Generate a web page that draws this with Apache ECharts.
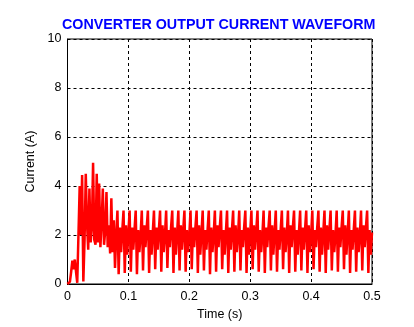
<!DOCTYPE html>
<html>
<head>
<meta charset="utf-8">
<style>
  html, body { margin: 0; padding: 0; background: #fff; }
  #chart { width: 414px; height: 327px; }
</style>
<script src="https://cdn.jsdelivr.net/npm/echarts@6/dist/echarts.min.js"></script>
</head>
<body>
<div id="chart"></div>
<script>
var titleText = 'CONVERTER OUTPUT CURRENT WAVEFORM';
var xTicks = [0, 0.1, 0.2, 0.3, 0.4, 0.5];
var yTicks = [0, 2, 4, 6, 8, 10];

// sample times (s), one row per 10 ms
var time = [
  0.000, 0.002, 0.004, 0.006, 0.008, 0.010, 0.012, 0.014, 0.016, 0.018,
  0.020, 0.022, 0.024, 0.026, 0.028, 0.030, 0.032, 0.034, 0.036, 0.038,
  0.040, 0.042, 0.044, 0.046, 0.048, 0.050, 0.052, 0.054, 0.056, 0.058,
  0.060, 0.062, 0.064, 0.066, 0.068, 0.070, 0.072, 0.074, 0.076, 0.078,
  0.080, 0.082, 0.084, 0.086, 0.088, 0.090, 0.092, 0.094, 0.096, 0.098,
  0.100, 0.102, 0.104, 0.106, 0.108, 0.110, 0.112, 0.114, 0.116, 0.118,
  0.120, 0.122, 0.124, 0.126, 0.128, 0.130, 0.132, 0.134, 0.136, 0.138,
  0.140, 0.142, 0.144, 0.146, 0.148, 0.150, 0.152, 0.154, 0.156, 0.158,
  0.160, 0.162, 0.164, 0.166, 0.168, 0.170, 0.172, 0.174, 0.176, 0.178,
  0.180, 0.182, 0.184, 0.186, 0.188, 0.190, 0.192, 0.194, 0.196, 0.198,
  0.200, 0.202, 0.204, 0.206, 0.208, 0.210, 0.212, 0.214, 0.216, 0.218,
  0.220, 0.222, 0.224, 0.226, 0.228, 0.230, 0.232, 0.234, 0.236, 0.238,
  0.240, 0.242, 0.244, 0.246, 0.248, 0.250, 0.252, 0.254, 0.256, 0.258,
  0.260, 0.262, 0.264, 0.266, 0.268, 0.270, 0.272, 0.274, 0.276, 0.278,
  0.280, 0.282, 0.284, 0.286, 0.288, 0.290, 0.292, 0.294, 0.296, 0.298,
  0.300, 0.302, 0.304, 0.306, 0.308, 0.310, 0.312, 0.314, 0.316, 0.318,
  0.320, 0.322, 0.324, 0.326, 0.328, 0.330, 0.332, 0.334, 0.336, 0.338,
  0.340, 0.342, 0.344, 0.346, 0.348, 0.350, 0.352, 0.354, 0.356, 0.358,
  0.360, 0.362, 0.364, 0.366, 0.368, 0.370, 0.372, 0.374, 0.376, 0.378,
  0.380, 0.382, 0.384, 0.386, 0.388, 0.390, 0.392, 0.394, 0.396, 0.398,
  0.400, 0.402, 0.404, 0.406, 0.408, 0.410, 0.412, 0.414, 0.416, 0.418,
  0.420, 0.422, 0.424, 0.426, 0.428, 0.430, 0.432, 0.434, 0.436, 0.438,
  0.440, 0.442, 0.444, 0.446, 0.448, 0.450, 0.452, 0.454, 0.456, 0.458,
  0.460, 0.462, 0.464, 0.466, 0.468, 0.470, 0.472, 0.474, 0.476, 0.478,
  0.480, 0.482, 0.484, 0.486, 0.488, 0.490, 0.492, 0.494, 0.496, 0.498,
  0.500
];

// output current (A), same rows
var current = [
  0, 0, 0.1, 0.5, 0.95, 0.6, 1.0, 0.5, 0.05, 0.1,
  4.0, 2.0, 4.45, 0.1, 1.8, 4.5, 2.5, 1.4, 3.9, 1.7,
  2.3, 4.95, 1.8, 1.6, 4.5, 1.7, 4.1, 1.5, 2.5, 3.9,
  1.6, 2.2, 3.75, 1.5, 2.4, 1.25, 3.5, 1.3, 2.6, 0.65,
  2.0, 3.0, 0.4, 2.3, 1.3, 2.2, 3.0, 0.45, 2.4, 1.2,
  2.1, 3.0, 0.5, 2.3, 1.4, 2.2, 3.0, 0.4, 2.2, 1.3,
  2.0, 3.0, 0.55, 2.4, 1.5, 2.3, 3.0, 0.45, 2.2, 1.2,
  2.1, 3.0, 0.6, 2.3, 1.4, 2.2, 3.0, 0.5, 2.4, 1.3,
  2.0, 3.0, 0.65, 2.2, 1.5, 2.3, 3.0, 0.45, 2.3, 1.2,
  2.1, 3.0, 0.55, 2.4, 1.4, 2.2, 3.0, 0.5, 2.2, 1.3,
  2.0, 3.0, 0.6, 2.3, 1.5, 2.3, 3.0, 0.45, 2.4, 1.2,
  2.1, 3.0, 0.55, 2.2, 1.4, 2.2, 3.0, 0.4, 2.3, 1.3,
  2.0, 3.0, 0.5, 2.4, 1.5, 2.3, 3.0, 0.6, 2.2, 1.2,
  2.1, 3.0, 0.45, 2.3, 1.4, 2.2, 3.0, 0.5, 2.4, 1.3,
  2.0, 3.0, 0.55, 2.2, 1.5, 2.3, 3.0, 0.45, 2.3, 1.2,
  2.1, 3.0, 0.6, 2.4, 1.4, 2.2, 3.0, 0.5, 2.2, 1.3,
  2.0, 3.0, 0.45, 2.3, 1.5, 2.3, 3.0, 0.55, 2.4, 1.2,
  2.1, 3.0, 0.5, 2.2, 1.4, 2.2, 3.0, 0.6, 2.3, 1.3,
  2.0, 3.0, 0.45, 2.4, 1.5, 2.3, 3.0, 0.5, 2.2, 1.2,
  2.1, 3.0, 0.55, 2.3, 1.4, 2.2, 3.0, 0.45, 2.4, 1.3,
  2.0, 3.0, 0.6, 2.2, 1.5, 2.3, 3.0, 0.5, 2.3, 1.2,
  2.1, 3.0, 0.45, 2.4, 1.4, 2.2, 3.0, 0.55, 2.2, 1.3,
  2.0, 3.0, 0.5, 2.3, 1.5, 2.3, 3.0, 0.6, 2.4, 1.2,
  2.1, 3.0, 0.45, 2.2, 1.4, 2.2, 3.0, 0.5, 2.3, 1.3,
  2.0, 3.0, 0.55, 2.4, 1.5, 2.3, 3.0, 0.45, 2.2, 1.2,
  2.1
];

var points = time.map(function(t, i) { return [t, current[i]]; });

var chart = echarts.init(document.getElementById('chart'), null, { renderer: 'canvas' });
var font = '"Liberation Sans", Arial, sans-serif';
chart.setOption({
  animation: false,
  backgroundColor: '#fff',
  title: {
    text: titleText,
    left: 57, top: 13,
    textStyle: { color: '#0000ff', fontSize: 14.3, fontWeight: 'bold', fontFamily: font }
  },
  grid: {
    left: 67.5, right: 42, top: 39, bottom: 43,
    show: true, borderColor: '#000', borderWidth: 1, backgroundColor: 'transparent'
  },
  xAxis: {
    type: 'value', min: xTicks[0], max: xTicks[xTicks.length - 1], interval: 0.1,
    name: 'Time (s)', nameLocation: 'middle', nameGap: 19,
    nameTextStyle: { color: '#000', fontSize: 12.5, fontFamily: font },
    axisLine: { show: true, lineStyle: { color: '#000' } },
    axisTick: { show: false },
    axisLabel: { color: '#000', fontSize: 12.5, fontFamily: font, margin: 6 },
    splitLine: { show: true, lineStyle: { color: '#000', type: [3, 3], width: 1 } }
  },
  yAxis: {
    type: 'value', min: yTicks[0], max: yTicks[yTicks.length - 1], interval: 2,
    name: 'Current (A)', nameLocation: 'middle', nameGap: 22,
    nameTextStyle: { color: '#000', fontSize: 12.5, fontFamily: font },
    axisLine: { show: true, lineStyle: { color: '#000' } },
    axisTick: { show: false },
    axisLabel: { color: '#000', fontSize: 12.5, fontFamily: font, margin: 6 },
    splitLine: { show: true, lineStyle: { color: '#000', type: [3, 3], width: 1 } }
  },
  series: [{
    type: 'line', data: points, showSymbol: false, symbol: 'none',
    lineStyle: { color: '#ff0000', width: 2.5 }, z: 3
  }]
});
</script>
</body>
</html>
